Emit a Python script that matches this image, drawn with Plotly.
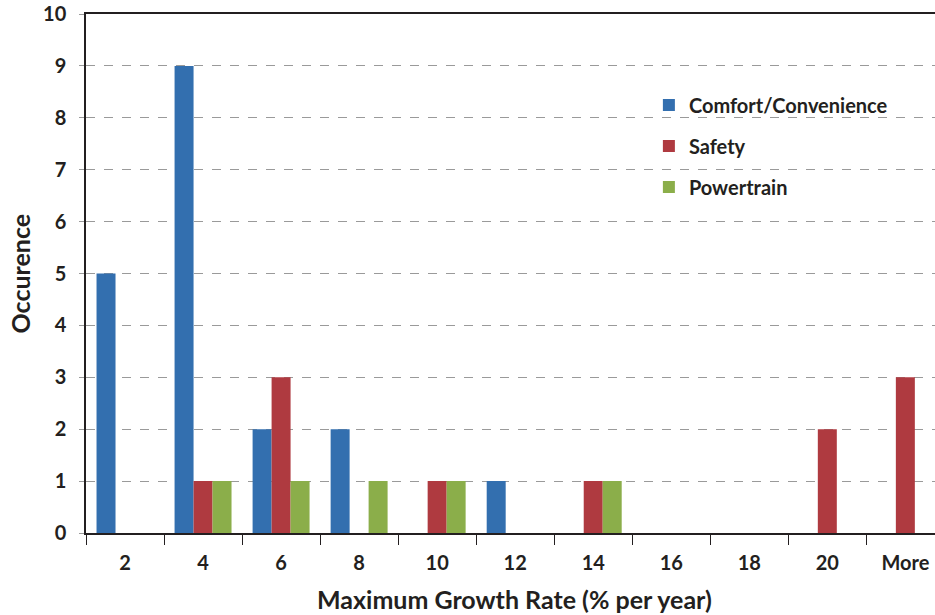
import plotly.graph_objects as go

# Histogram of maximum growth rates by application domain
categories = ["2", "4", "6", "8", "10", "12", "14", "16", "18", "20", "More"]
comfort = [5, 9, 2, 2, 0, 1, 0, 0, 0, 0, 0]
safety = [0, 1, 3, 0, 1, 0, 1, 0, 0, 2, 3]
powertrain = [0, 1, 1, 1, 1, 0, 1, 0, 0, 0, 0]

series = [
    ("Comfort/Convenience", comfort, "#336FAF"),
    ("Safety", safety, "#AF3A40"),
    ("Powertrain", powertrain, "#8BAE4A"),
]

FONT = "Lato, 'Open Sans', sans-serif"
TEXT = "#231F20"

fig = go.Figure()
for name, vals, color in series:
    fig.add_trace(go.Bar(
        x=categories,
        y=vals,
        name=name,
        marker=dict(color=color, line=dict(width=0)),
        legendgroup=name,
    ))

fig.update_layout(
    width=935,
    height=615,
    barmode="group",
    bargap=0.27,
    bargroupgap=0,
    plot_bgcolor="white",
    paper_bgcolor="white",
    margin=dict(l=86, r=0, t=14, b=82),
    font=dict(family=FONT, color=TEXT, size=16),
    legend=dict(
        x=0.663, y=0.862, xanchor="left", yanchor="top",
        bgcolor="rgba(0,0,0,0)",
        font=dict(size=20, family=FONT, color=TEXT, weight="bold"),
        tracegroupgap=12,
        itemwidth=30,
    ),
    showlegend=True,
)

fig.update_xaxes(
    type="category",
    range=[-0.5, 10.38],
    automargin=False,
    showline=True, mirror=True, linecolor="#231F20", linewidth=1.5,
    ticks="outside", tickson="boundaries", ticklen=10, tickcolor="#231F20",
    ticklabelstandoff=11,
    tickfont=dict(size=20, family=FONT, color=TEXT, weight="bold"),
    showgrid=False,
)

fig.update_yaxes(
    range=[0, 10], dtick=1,
    automargin=False,
    showline=True, linecolor="#231F20", linewidth=1.5,
    showgrid=True, gridcolor="#9A9A9A", griddash="dash", gridwidth=1,
    ticks="outside", ticklen=5, tickcolor="#9A9A9A",
    ticklabelstandoff=9,
    zeroline=False,
    tickfont=dict(size=20, family=FONT, color=TEXT, weight="bold"),
)

# axis titles placed as annotations for precise positioning
fig.add_annotation(
    text="Maximum Growth Rate (% per year)", xref="paper", yref="paper",
    x=0.505, y=0, yshift=-66, xanchor="center", yanchor="middle",
    showarrow=False, font=dict(size=25, family=FONT, color=TEXT, weight="bold"),
)
fig.add_annotation(
    text="Occurence", xref="paper", yref="paper",
    x=0, y=0.5, xshift=-67, xanchor="center", yanchor="middle", textangle=-90,
    showarrow=False, font=dict(size=25, family=FONT, color=TEXT, weight="bold"),
)

fig.write_html("out.html", config={"displayModeBar": False},
               post_script="document.body.style.margin='0';")
